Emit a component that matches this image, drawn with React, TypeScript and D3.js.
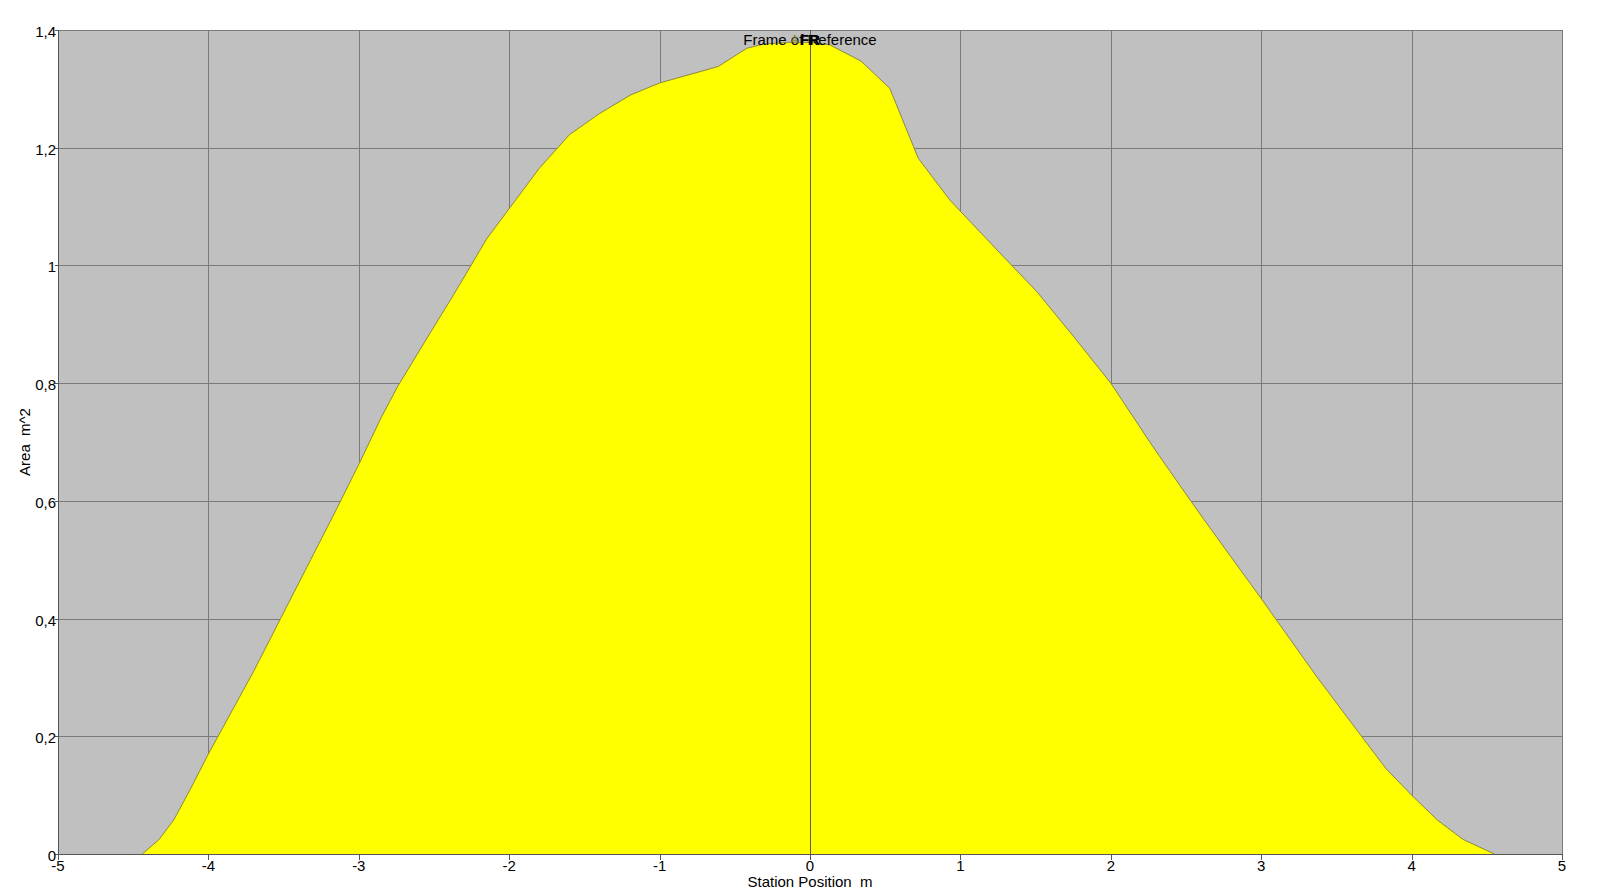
import React, { useEffect, useRef } from "react";
import * as d3 from "d3";

const stationPositions = [
  -4.44, -4.33, -4.23, -4.12, -4.0, -3.7, -3.52, -3.32, -3.15, -3.0, -2.85, -2.74, -2.55, -2.37,
  -2.15, -1.99, -1.8, -1.6, -1.4, -1.19, -1.0, -0.61, -0.42, -0.31, -0.15, 0.0, 0.13, 0.34, 0.53,
  0.72, 0.93, 1.0, 1.33, 1.51, 1.75, 2.0, 2.28, 2.46, 2.62, 3.0, 3.37, 3.67, 3.83, 4.0, 4.17, 4.34,
  4.5, 4.55,
];
const areaValues = [
  0, 0.024, 0.058, 0.11, 0.17, 0.31, 0.4, 0.5, 0.585, 0.662, 0.742, 0.795, 0.875, 0.95,
  1.045, 1.1, 1.165, 1.222, 1.258, 1.29, 1.31, 1.338, 1.369, 1.376, 1.379, 1.379, 1.375, 1.347, 1.301,
  1.182, 1.111, 1.092, 1.003, 0.955, 0.88, 0.8, 0.692, 0.626, 0.568, 0.434, 0.301, 0.199, 0.145, 0.1,
  0.058, 0.025, 0.006, 0,
];
const xTicks = [-5, -4, -3, -2, -1, 0, 1, 2, 3, 4, 5];
const yTicks = [0, 0.2, 0.4, 0.6, 0.8, 1, 1.2, 1.4];
const xTitle = "Station Position  m";
const yTitle = "Area  m^2";
const referenceLabel = "Frame of Reference";

const W = 1600;
const H = 896;
const M = { left: 58, top: 30, right: 1562, bottom: 854 };
const FONT = "Arial, 'Liberation Sans', sans-serif";

export default function App() {
  const ref = useRef<SVGSVGElement | null>(null);

  useEffect(() => {
    const svg = d3.select(ref.current);
    svg.selectAll("*").remove();

    const x = d3.scaleLinear().domain([-5, 5]).range([M.left, M.right]);
    const y = d3.scaleLinear().domain([0, 1.4]).range([M.bottom, M.top]);
    const fmt = (v: number) =>
      d3.format("~g")(+v.toFixed(1)).replace("−", "-").replace(".", ",");

    svg.append("rect").attr("width", W).attr("height", H).attr("fill", "#ffffff");
    svg
      .append("rect")
      .attr("x", M.left)
      .attr("y", M.top)
      .attr("width", M.right - M.left)
      .attr("height", M.bottom - M.top)
      .attr("fill", "#c0c0c0");

    // grid
    const grid = svg.append("g").attr("stroke", "#7a7a7a").attr("stroke-width", 1);
    xTicks.forEach((t) => {
      grid
        .append("line")
        .attr("x1", Math.round(x(t)) + 0.5)
        .attr("x2", Math.round(x(t)) + 0.5)
        .attr("y1", M.top)
        .attr("y2", M.bottom);
    });
    yTicks.forEach((t) => {
      grid
        .append("line")
        .attr("x1", M.left)
        .attr("x2", M.right)
        .attr("y1", Math.round(y(t)) + 0.5)
        .attr("y2", Math.round(y(t)) + 0.5);
    });

    const data = stationPositions.map((s, i) => ({ s, a: areaValues[i] }));
    const area = d3
      .area<{ s: number; a: number }>()
      .x((d) => x(d.s))
      .y0(y(0))
      .y1((d) => y(d.a));
    const line = d3
      .line<{ s: number; a: number }>()
      .x((d) => x(d.s))
      .y((d) => y(d.a));
    svg.append("path").datum(data).attr("d", area).attr("fill", "#ffff00");
    svg
      .append("path")
      .datum(data)
      .attr("d", line)
      .attr("fill", "none")
      .attr("stroke", "#8c8a3c")
      .attr("stroke-width", 1)
      .attr("stroke-linejoin", "round");

    // zero reference line
    svg
      .append("line")
      .attr("x1", Math.round(x(0)) + 0.5)
      .attr("x2", Math.round(x(0)) + 0.5)
      .attr("y1", M.top)
      .attr("y2", M.bottom)
      .attr("stroke", "#5a5a5a")
      .attr("stroke-width", 1);

    // axes lines
    svg
      .append("line")
      .attr("x1", M.left + 0.5)
      .attr("x2", M.left + 0.5)
      .attr("y1", M.top)
      .attr("y2", M.bottom)
      .attr("stroke", "#555");
    svg
      .append("line")
      .attr("x1", M.left)
      .attr("x2", M.right)
      .attr("y1", M.bottom + 0.5)
      .attr("y2", M.bottom + 0.5)
      .attr("stroke", "#555");

    // x ticks
    const xg = svg.append("g");
    xTicks.forEach((t) => {
      xg.append("line")
        .attr("x1", Math.round(x(t)) + 0.5)
        .attr("x2", Math.round(x(t)) + 0.5)
        .attr("y1", M.bottom)
        .attr("y2", M.bottom + 6)
        .attr("stroke", "#555");
      xg.append("text")
        .attr("x", x(t))
        .attr("y", M.bottom + 17)
        .attr("text-anchor", "middle")
        .attr("font-family", FONT)
        .attr("font-size", 15)
        .attr("fill", "#000")
        .text(fmt(t));
    });

    // y ticks
    const yg = svg.append("g");
    yTicks.forEach((t) => {
      yg.append("line")
        .attr("x1", M.left - 3)
        .attr("x2", M.left)
        .attr("y1", Math.round(y(t)) + 0.5)
        .attr("y2", Math.round(y(t)) + 0.5)
        .attr("stroke", "#555");
      yg.append("text")
        .attr("x", M.left - 2)
        .attr("y", y(t) + 7)
        .attr("text-anchor", "end")
        .attr("font-family", FONT)
        .attr("font-size", 15)
        .attr("fill", "#000")
        .text(fmt(t));
    });

    // titles
    svg
      .append("text")
      .attr("x", x(0))
      .attr("y", 887)
      .attr("text-anchor", "middle")
      .attr("font-family", FONT)
      .attr("font-size", 15)
      .attr("fill", "#000")
      .style("white-space", "pre")
      .text(xTitle);
    svg
      .append("text")
      .attr("transform", `translate(30,${(M.top + M.bottom) / 2}) rotate(-90)`)
      .attr("text-anchor", "middle")
      .attr("font-family", FONT)
      .attr("font-size", 15)
      .attr("fill", "#000")
      .style("white-space", "pre")
      .text(yTitle);

    // reference label
    svg
      .append("text")
      .attr("x", x(0))
      .attr("y", 45)
      .attr("text-anchor", "middle")
      .attr("font-family", FONT)
      .attr("font-size", 15)
      .attr("fill", "#000")
      .text(referenceLabel);
    svg
      .append("text")
      .attr("x", x(0) - 19)
      .attr("y", 43)
      .attr("font-family", FONT)
      .attr("font-size", 11)
      .attr("fill", "#8c8a3c")
      .text("A");
    svg
      .append("text")
      .attr("x", x(0))
      .attr("y", 45)
      .attr("text-anchor", "middle")
      .attr("font-family", FONT)
      .attr("font-size", 15)
      .attr("font-weight", "bold")
      .attr("fill", "#000")
      .text("FR");
  }, []);

  return (
    <svg
      ref={ref}
      width={W}
      height={H}
      style={{ position: "absolute", left: 0, top: 0, display: "block" }}
    />
  );
}
